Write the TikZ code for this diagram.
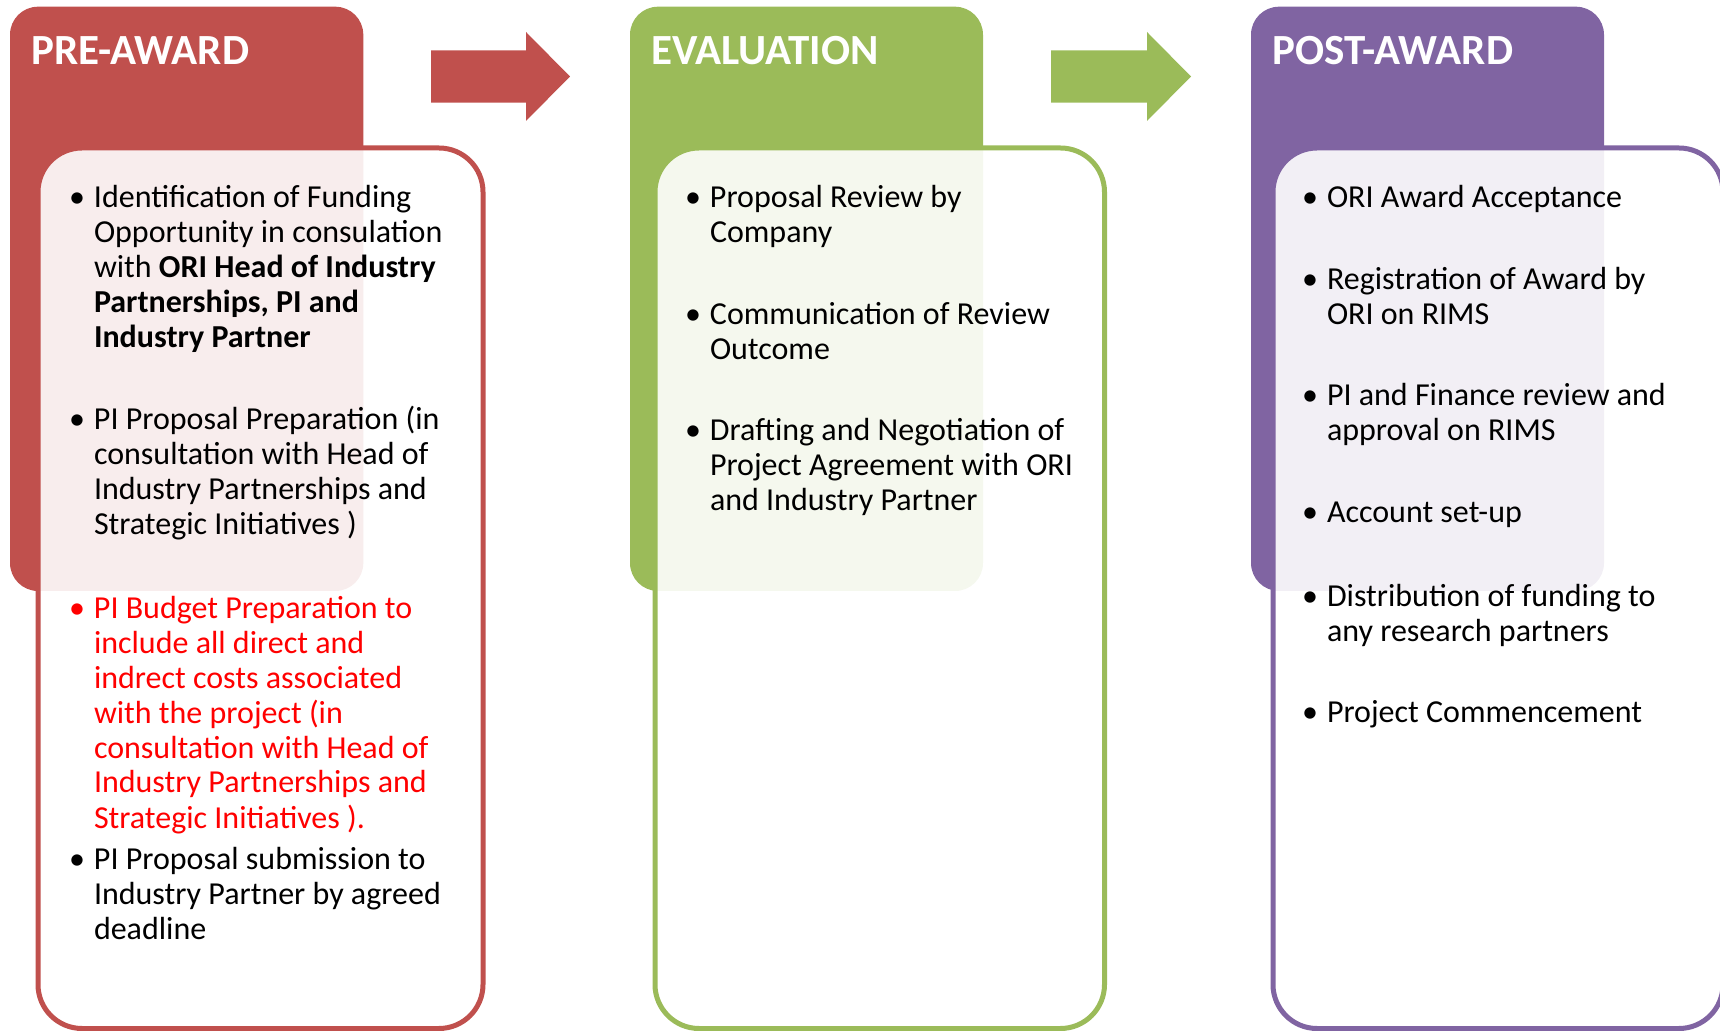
\documentclass[tikz,border=0pt]{standalone}
\usepackage{fontspec}
\setmainfont{Carlito}
\definecolor{preRed}{HTML}{C0504D}
\definecolor{evalGreen}{HTML}{9BBB59}
\definecolor{postPurple}{HTML}{8064A2}
\definecolor{alertRed}{HTML}{FF0000}
\tikzset{
	every node/.style={inner sep=0pt, outer sep=0pt},
	head/.style={rounded corners=14pt},
	panel/.style={rounded corners=22pt, line width=2.5pt, fill=white, fill opacity=0.9},
	ttl/.style={anchor=base west, text=white, font=\fontsize{21.5}{25}\selectfont\bfseries},
	% base of a multi-line node is its last line
	item/.style={anchor=base west, align=left, font=\fontsize{16}{17.5}\selectfont}
}
\newcommand{\bul}{\llap{\makebox[9pt]{\textbullet}\hspace{4pt}}}

\begin{document}
\begin{tikzpicture}[x=0.5pt, y=-0.5pt]
	\useasboundingbox (0,0) rectangle (1720,1031);
	% stage headers
	\fill[preRed, head] (10,6.7) rectangle (363.3,591);
	\fill[evalGreen, head] (630,6.7) rectangle (983,591);
	\fill[postPurple, head] (1251,6.7) rectangle (1604,591);
	
	% block arrows
	\fill[preRed] (431,50.5) -- (526,50.5) -- (526,32) -- (570,76.5) -- (526,121) -- (526,102.7) -- (431,102.7) -- cycle;
	\fill[evalGreen] (1051,50.5) -- (1147,50.5) -- (1147,32) -- (1191,76.5) -- (1147,121) -- (1147,102.7) -- (1051,102.7) -- cycle;
	
	% panels
	\draw[panel, draw=preRed] (38,148) rectangle (483,1028.5);
	\draw[panel, draw=evalGreen] (655,148) rectangle (1104.5,1028.5);
	\draw[panel, draw=postPurple] (1273,148) rectangle (1723,1028.5);
	
	% titles
	\node (preTitle) [ttl] at (31.5,64.5) {PRE-AWARD};
	\node (evalTitle) [ttl] at (651.5,64.5) {EVALUATION};
	\node (postTitle) [ttl] at (1272.5,64.5) {POST-AWARD};
	
	% pre-award steps
	\node (pre1) [item] at (94,347.5) {\bul Identification of Funding\\Opportunity in consulation\\with \textbf{ORI Head of Industry}\\\textbf{Partnerships, PI and}\\\textbf{Industry Partner}};
	\node (pre2) [item] at (94,535) {\bul PI Proposal Preparation (in\\consultation with Head of\\Industry Partnerships and\\Strategic Initiatives )};
	\node (pre3) [item, text=alertRed] at (94,828) {\bul PI Budget Preparation to\\include all direct and\\indrect costs associated\\with the project (in\\consultation with Head of\\Industry Partnerships and\\Strategic Initiatives ).};
	\node (pre4) [item] at (94,939.2) {\bul PI Proposal submission to\\Industry Partner by agreed\\deadline};
	
	% evaluation steps
	\node (eval1) [item] at (710,242.5) {\bul Proposal Review by\\Company};
	\node (eval2) [item] at (710,359.2) {\bul Communication of Review\\Outcome};
	\node (eval3) [item] at (710,510.9) {\bul Drafting and Negotiation of\\Project Agreement with ORI\\and Industry Partner};
	
	% post-award steps
	\node (post1) [item] at (1327,207.5) {\bul ORI Award Acceptance};
	\node (post2) [item] at (1327,324.2) {\bul Registration of Award by\\ORI on RIMS};
	\node (post3) [item] at (1327,440.9) {\bul PI and Finance review and\\approval on RIMS};
	\node (post4) [item] at (1327,522.6) {\bul Account set-up};
	\node (post5) [item] at (1327,641.3) {\bul Distribution of funding to\\any research partners};
	\node (post6) [item] at (1327,723) {\bul Project Commencement};
\end{tikzpicture}
\end{document}
